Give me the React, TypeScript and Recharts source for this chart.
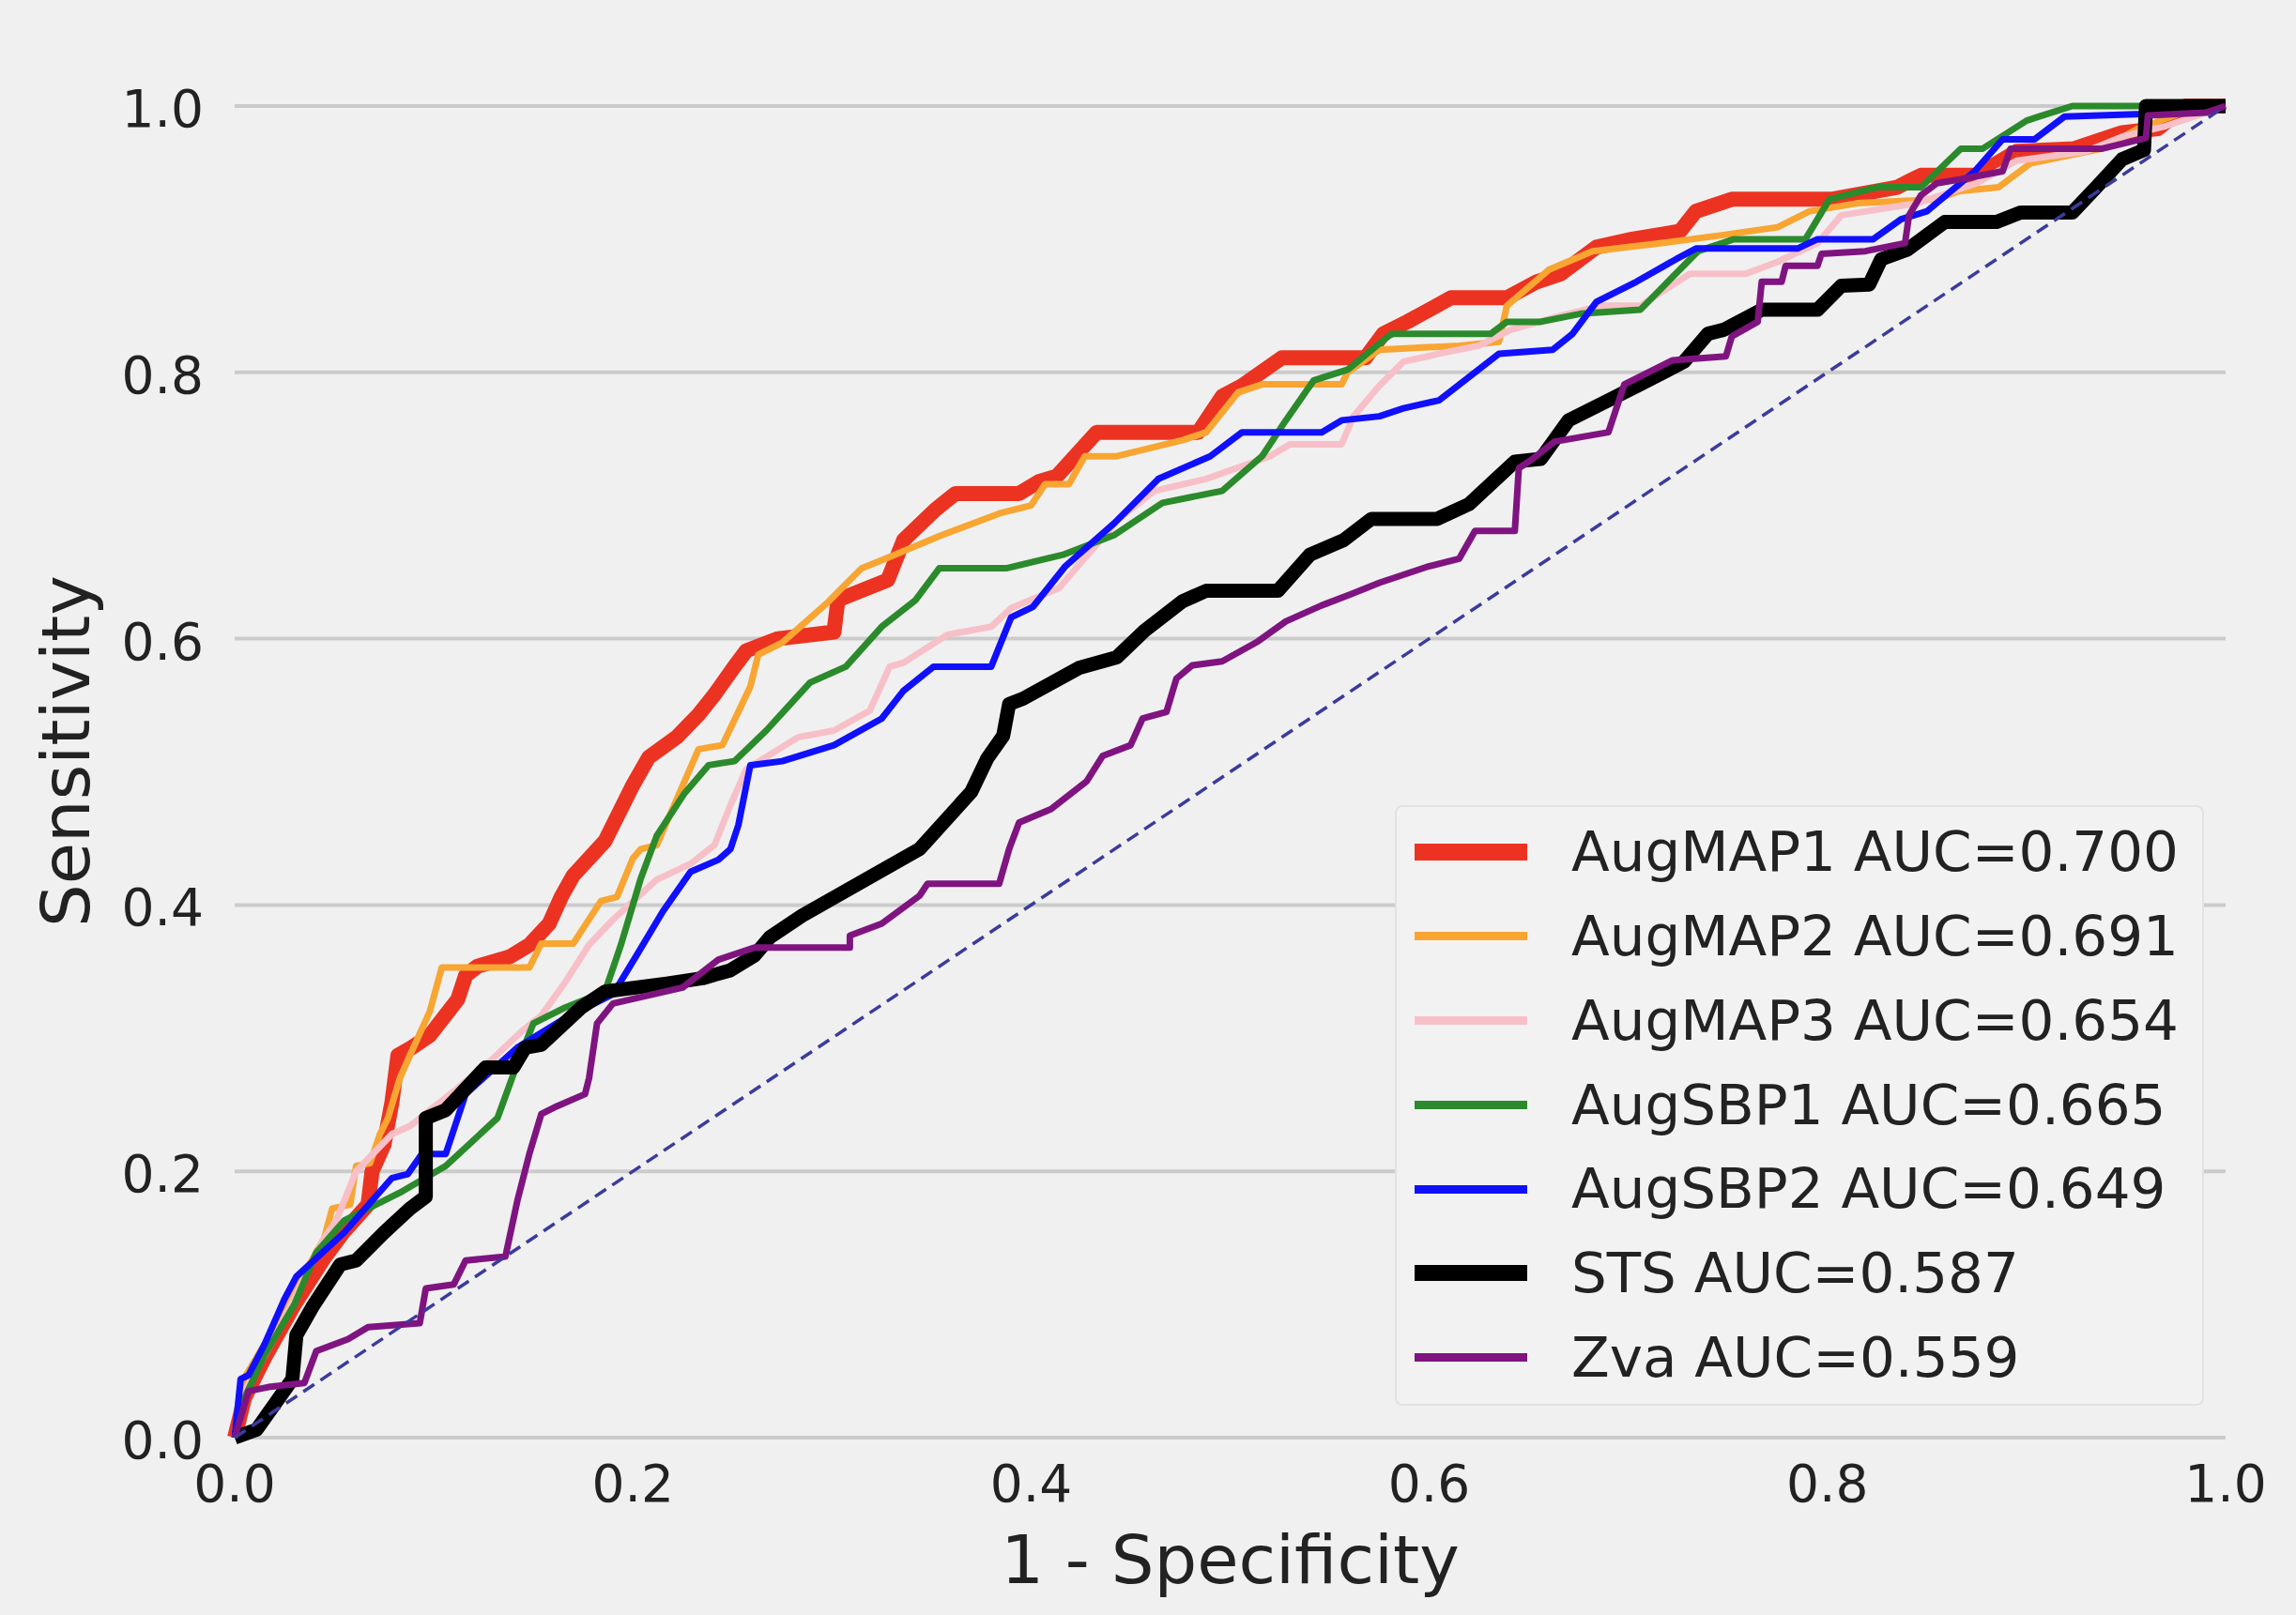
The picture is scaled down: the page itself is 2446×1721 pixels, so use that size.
import React from 'react';
import { LineChart, Line, XAxis, YAxis, CartesianGrid } from 'recharts';

// ROC points: [1 - specificity, sensitivity]
const augMap1: [number, number][] = [
  [0, 0], [0.005, 0.03], [0.015, 0.06], [0.03, 0.1], [0.045, 0.135], [0.055, 0.155], [0.067, 0.175],
  [0.069, 0.2], [0.075, 0.22], [0.079, 0.252], [0.082, 0.287], [0.089, 0.293], [0.098, 0.302],
  [0.112, 0.329], [0.116, 0.347], [0.122, 0.354], [0.138, 0.361], [0.148, 0.37], [0.158, 0.386],
  [0.164, 0.406], [0.17, 0.422], [0.186, 0.448], [0.2, 0.49], [0.208, 0.511], [0.222, 0.526],
  [0.233, 0.543], [0.241, 0.558], [0.251, 0.579], [0.257, 0.591], [0.273, 0.6], [0.301, 0.605],
  [0.303, 0.629], [0.328, 0.644], [0.336, 0.674], [0.352, 0.697], [0.362, 0.709], [0.394, 0.709],
  [0.404, 0.718], [0.413, 0.722], [0.433, 0.755], [0.484, 0.755], [0.496, 0.782], [0.506, 0.79],
  [0.526, 0.811], [0.568, 0.811], [0.577, 0.829], [0.589, 0.838], [0.611, 0.856], [0.639, 0.856],
  [0.654, 0.868], [0.666, 0.874], [0.684, 0.894], [0.702, 0.9], [0.726, 0.906], [0.734, 0.921],
  [0.752, 0.93], [0.802, 0.93], [0.835, 0.939], [0.847, 0.948], [0.875, 0.948], [0.895, 0.966],
  [0.924, 0.968], [0.948, 0.98], [0.966, 0.983], [0.98, 1.0], [1, 1],
];

const augMap2: [number, number][] = [
  [0, 0], [0.003, 0.04], [0.015, 0.07], [0.03, 0.11], [0.045, 0.15], [0.049, 0.172], [0.058, 0.175],
  [0.061, 0.204], [0.068, 0.206], [0.073, 0.228], [0.077, 0.24], [0.083, 0.27], [0.088, 0.287],
  [0.098, 0.32], [0.104, 0.353], [0.148, 0.353], [0.154, 0.371], [0.17, 0.371], [0.184, 0.403],
  [0.192, 0.406], [0.2, 0.435], [0.204, 0.442], [0.212, 0.445], [0.233, 0.517], [0.245, 0.52],
  [0.259, 0.564], [0.263, 0.588], [0.275, 0.597], [0.297, 0.626], [0.315, 0.653], [0.325, 0.659],
  [0.354, 0.677], [0.384, 0.694], [0.4, 0.7], [0.407, 0.716], [0.419, 0.716], [0.427, 0.737],
  [0.443, 0.737], [0.476, 0.749], [0.488, 0.755], [0.504, 0.785], [0.516, 0.791], [0.556, 0.791],
  [0.559, 0.8], [0.575, 0.817], [0.615, 0.82], [0.635, 0.823], [0.639, 0.85], [0.66, 0.877],
  [0.682, 0.891], [0.716, 0.897], [0.747, 0.903], [0.775, 0.909], [0.791, 0.921], [0.815, 0.927],
  [0.855, 0.93], [0.866, 0.936], [0.886, 0.939], [0.902, 0.957], [0.938, 0.968], [0.956, 0.983],
  [0.982, 0.997], [1, 1],
];

const augMap3: [number, number][] = [
  [0, 0], [0.005, 0.035], [0.02, 0.075], [0.035, 0.12], [0.045, 0.15], [0.051, 0.163], [0.061, 0.2],
  [0.079, 0.228], [0.088, 0.234], [0.11, 0.26], [0.13, 0.285], [0.144, 0.305], [0.154, 0.317],
  [0.166, 0.342], [0.178, 0.37], [0.19, 0.389], [0.212, 0.419], [0.229, 0.431], [0.241, 0.445],
  [0.249, 0.475], [0.257, 0.502], [0.283, 0.526], [0.301, 0.531], [0.319, 0.546], [0.329, 0.579],
  [0.336, 0.582], [0.358, 0.603], [0.38, 0.609], [0.39, 0.623], [0.414, 0.638], [0.444, 0.69],
  [0.462, 0.711], [0.488, 0.72], [0.52, 0.737], [0.53, 0.746], [0.556, 0.746], [0.562, 0.767],
  [0.575, 0.79], [0.587, 0.808], [0.605, 0.814], [0.625, 0.82], [0.641, 0.832], [0.665, 0.842],
  [0.686, 0.85], [0.706, 0.85], [0.731, 0.874], [0.759, 0.874], [0.775, 0.883], [0.795, 0.897],
  [0.807, 0.918], [0.845, 0.927], [0.875, 0.942], [0.895, 0.959], [0.93, 0.966], [0.948, 0.977],
  [0.97, 0.985], [1, 1],
];

const augSbp1: [number, number][] = [
  [0, 0], [0.005, 0.03], [0.015, 0.062], [0.03, 0.1], [0.041, 0.139], [0.055, 0.163], [0.083, 0.184],
  [0.106, 0.204], [0.132, 0.24], [0.142, 0.281], [0.15, 0.311], [0.166, 0.323], [0.186, 0.335],
  [0.194, 0.37], [0.204, 0.42], [0.212, 0.452], [0.226, 0.484], [0.238, 0.505], [0.251, 0.508],
  [0.267, 0.531], [0.289, 0.567], [0.307, 0.579], [0.325, 0.609], [0.342, 0.629], [0.354, 0.653],
  [0.388, 0.653], [0.416, 0.663], [0.442, 0.678], [0.466, 0.702], [0.496, 0.711], [0.516, 0.737],
  [0.528, 0.764], [0.542, 0.794], [0.559, 0.802], [0.581, 0.829], [0.631, 0.829], [0.639, 0.838],
  [0.656, 0.838], [0.676, 0.844], [0.706, 0.847], [0.735, 0.891], [0.753, 0.9], [0.789, 0.9],
  [0.801, 0.93], [0.825, 0.939], [0.847, 0.939], [0.867, 0.968], [0.878, 0.968], [0.9, 0.989],
  [0.906, 0.992], [0.923, 1.0], [1, 1],
];

const augSbp2: [number, number][] = [
  [0, 0], [0.003, 0.044], [0.007, 0.047], [0.015, 0.07], [0.025, 0.104], [0.031, 0.121], [0.055, 0.154],
  [0.079, 0.195], [0.087, 0.198], [0.094, 0.213], [0.106, 0.213], [0.116, 0.258], [0.142, 0.293],
  [0.166, 0.315], [0.19, 0.333], [0.201, 0.36], [0.215, 0.395], [0.229, 0.425], [0.243, 0.434],
  [0.249, 0.442], [0.253, 0.46], [0.259, 0.505], [0.275, 0.508], [0.301, 0.52], [0.325, 0.54],
  [0.336, 0.561], [0.351, 0.579], [0.38, 0.579], [0.39, 0.616], [0.401, 0.624], [0.417, 0.654],
  [0.442, 0.687], [0.464, 0.72], [0.49, 0.737], [0.506, 0.755], [0.546, 0.755], [0.556, 0.764],
  [0.575, 0.767], [0.587, 0.773], [0.605, 0.779], [0.635, 0.814], [0.662, 0.817], [0.672, 0.829],
  [0.684, 0.853], [0.704, 0.868], [0.724, 0.885], [0.734, 0.893], [0.785, 0.893], [0.795, 0.9],
  [0.823, 0.9], [0.837, 0.915], [0.85, 0.921], [0.874, 0.951], [0.888, 0.975], [0.904, 0.975],
  [0.919, 0.992], [0.958, 0.994], [0.979, 1.0], [1, 1],
];

const sts: [number, number][] = [
  [0, 0], [0.011, 0.006], [0.029, 0.044], [0.031, 0.077], [0.039, 0.098], [0.053, 0.13], [0.061, 0.133],
  [0.075, 0.154], [0.088, 0.172], [0.096, 0.181], [0.096, 0.24], [0.106, 0.246], [0.126, 0.278],
  [0.14, 0.278], [0.146, 0.293], [0.154, 0.295], [0.174, 0.323], [0.186, 0.335], [0.217, 0.341],
  [0.235, 0.345], [0.249, 0.351], [0.261, 0.362], [0.269, 0.376], [0.285, 0.392], [0.344, 0.442],
  [0.37, 0.485], [0.378, 0.51], [0.386, 0.527], [0.389, 0.551], [0.396, 0.555], [0.424, 0.578],
  [0.443, 0.586], [0.457, 0.606], [0.476, 0.628], [0.488, 0.636], [0.524, 0.636], [0.54, 0.663],
  [0.557, 0.674], [0.571, 0.69], [0.604, 0.69], [0.62, 0.701], [0.643, 0.733], [0.656, 0.735],
  [0.67, 0.764], [0.69, 0.779], [0.706, 0.791], [0.728, 0.808], [0.74, 0.829], [0.748, 0.832],
  [0.767, 0.847], [0.795, 0.847], [0.807, 0.865], [0.821, 0.866], [0.827, 0.885], [0.84, 0.892],
  [0.859, 0.913], [0.885, 0.913], [0.897, 0.92], [0.923, 0.92], [0.935, 0.939], [0.948, 0.96],
  [0.959, 0.967], [0.96, 1.0], [1, 1],
];

const zva: [number, number][] = [
  [0, 0], [0.007, 0.035], [0.017, 0.038], [0.035, 0.041], [0.041, 0.065], [0.057, 0.074], [0.067, 0.083],
  [0.093, 0.086], [0.096, 0.112], [0.11, 0.115], [0.116, 0.133], [0.136, 0.136], [0.142, 0.178],
  [0.148, 0.213], [0.154, 0.243], [0.162, 0.249], [0.176, 0.258], [0.178, 0.27], [0.182, 0.311],
  [0.19, 0.326], [0.225, 0.338], [0.243, 0.359], [0.261, 0.368], [0.309, 0.368], [0.309, 0.377],
  [0.325, 0.386], [0.344, 0.407], [0.348, 0.416], [0.384, 0.416], [0.389, 0.442], [0.394, 0.462],
  [0.41, 0.472], [0.428, 0.493], [0.436, 0.512], [0.45, 0.52], [0.456, 0.54], [0.468, 0.545],
  [0.473, 0.57], [0.481, 0.58], [0.496, 0.583], [0.514, 0.598], [0.528, 0.613], [0.546, 0.625],
  [0.56, 0.633], [0.575, 0.642], [0.599, 0.654], [0.615, 0.66], [0.623, 0.681], [0.643, 0.681],
  [0.645, 0.728], [0.651, 0.734], [0.663, 0.748], [0.69, 0.755], [0.698, 0.791], [0.706, 0.797],
  [0.722, 0.809], [0.749, 0.812], [0.752, 0.827], [0.765, 0.838], [0.767, 0.868], [0.777, 0.868],
  [0.779, 0.88], [0.795, 0.88], [0.797, 0.889], [0.819, 0.891], [0.839, 0.897], [0.841, 0.918],
  [0.847, 0.933], [0.855, 0.942], [0.867, 0.945], [0.888, 0.951], [0.892, 0.968], [0.938, 0.968],
  [0.96, 0.976], [0.961, 0.993], [0.99, 0.995], [1, 1],
];

const chance: [number, number][] = [[0, 0], [1, 1]];

const tickValues = [0, 0.2, 0.4, 0.6, 0.8, 1.0];

const series = [
  { name: 'AugMAP1', auc: '0.700', pts: augMap1, color: '#ec3322', width: 16 },
  { name: 'AugMAP2', auc: '0.691', pts: augMap2, color: '#f8a532', width: 7 },
  { name: 'AugMAP3', auc: '0.654', pts: augMap3, color: '#f7c0c8', width: 7 },
  { name: 'AugSBP1', auc: '0.665', pts: augSbp1, color: '#2b8a2b', width: 7 },
  { name: 'AugSBP2', auc: '0.649', pts: augSbp2, color: '#1010ff', width: 7 },
  { name: 'STS', auc: '0.587', pts: sts, color: '#000000', width: 15 },
  { name: 'Zva', auc: '0.559', pts: zva, color: '#7f1480', width: 7 },
];

const toRows = (pts: [number, number][]) => pts.map(([x, y]) => ({ x, y }));

const FONT = '"DejaVu Sans", sans-serif';

const XTick = (props: any) => {
  const { x, y, payload } = props;
  return (
    <text x={x} y={y + 66} textAnchor="middle" fontFamily={FONT} fontSize={55} fill="#222">
      {Number(payload.value).toFixed(1)}
    </text>
  );
};

const YTick = (props: any) => {
  const { x, y, payload } = props;
  return (
    <text x={x - 31} y={y + 22} textAnchor="end" fontFamily={FONT} fontSize={55} fill="#222">
      {Number(payload.value).toFixed(1)}
    </text>
  );
};

const XTitle = (props: any) => {
  const { x, y, width } = props.viewBox;
  return (
    <text x={x + width / 2} y={y + 155} textAnchor="middle" fontFamily={FONT} fontSize={72} fill="#222">
      1 - Specificity
    </text>
  );
};

const YTitle = (props: any) => {
  const { y, height } = props.viewBox;
  const cx = 70;
  const cy = y + height / 2 - 22;
  return (
    <text
      x={cx}
      y={cy}
      transform={`rotate(-90, ${cx}, ${cy})`}
      textAnchor="middle"
      dominantBaseline="central"
      fontFamily={FONT}
      fontSize={72}
      fill="#222"
    >
      Sensitivity
    </text>
  );
};

const RocLegend = () => (
  <div
    style={{
      position: 'absolute',
      left: 1486,
      top: 858,
      width: 862,
      height: 640,
      boxSizing: 'border-box',
      background: '#f2f2f2',
      border: '2px solid #e2e2e2',
      borderRadius: 8,
      paddingTop: 3,
      fontFamily: FONT,
    }}
  >
    {series.map((s) => (
      <div key={s.name} style={{ display: 'flex', alignItems: 'center', height: 89.8 }}>
        <div style={{ width: 120, height: s.width + 2, background: s.color, marginLeft: 19 }} />
        <span style={{ marginLeft: 47, fontSize: 59.5, color: '#222', whiteSpace: 'nowrap', lineHeight: 1 }}>
          {`${s.name} AUC=${s.auc}`}
        </span>
      </div>
    ))}
  </div>
);

export default function App() {
  return (
    <div style={{ position: 'absolute', left: 0, top: 0, width: 2446, height: 1721, background: '#f0f0f0' }}>
      <LineChart width={2446} height={1721} margin={{ top: 113, right: 75, left: 0, bottom: 0 }}>
        <CartesianGrid horizontal vertical={false} stroke="#cbcbcb" strokeWidth={4} />
        <XAxis
          type="number"
          dataKey="x"
          domain={[0, 1]}
          ticks={tickValues}
          height={189}
          axisLine={false}
          tickLine={false}
          tickSize={0}
          tick={<XTick />}
          label={<XTitle />}
          allowDuplicatedCategory={false}
        />
        <YAxis
          type="number"
          dataKey="y"
          domain={[0, 1]}
          ticks={tickValues}
          width={250}
          axisLine={false}
          tickLine={false}
          tickSize={0}
          tick={<YTick />}
          label={<YTitle />}
        />
        {series.map((s) => (
          <Line
            key={s.name}
            data={toRows(s.pts)}
            dataKey="y"
            type="linear"
            stroke={s.color}
            strokeWidth={s.width}
            strokeLinejoin="round"
            dot={false}
            activeDot={false}
            isAnimationActive={false}
          />
        ))}
        <Line
          data={toRows(chance)}
          dataKey="y"
          type="linear"
          stroke="#3b3b9c"
          strokeWidth={3.5}
          strokeDasharray="14 8"
          dot={false}
          activeDot={false}
          isAnimationActive={false}
        />
      </LineChart>
      <RocLegend />
    </div>
  );
}
